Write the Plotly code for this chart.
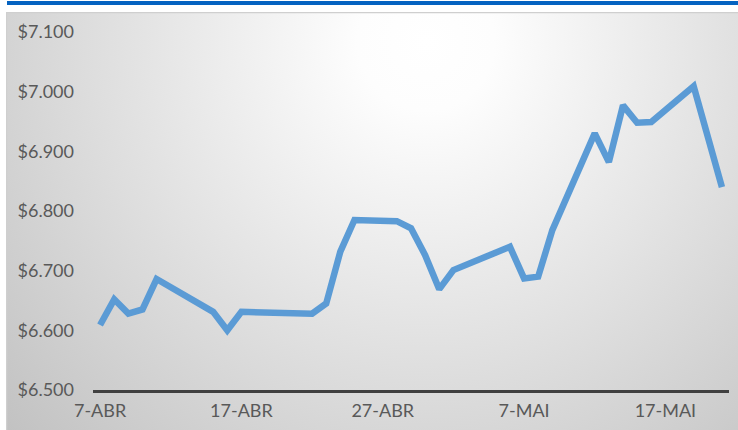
import base64
import plotly.graph_objects as go

# dados (cotação diária)
dates = ["2014-04-07", "2014-04-08", "2014-04-09", "2014-04-10", "2014-04-11",
         "2014-04-15", "2014-04-16", "2014-04-17", "2014-04-22", "2014-04-23",
         "2014-04-24", "2014-04-25", "2014-04-28", "2014-04-29", "2014-04-30",
         "2014-05-01", "2014-05-02", "2014-05-06", "2014-05-07", "2014-05-08",
         "2014-05-09", "2014-05-12", "2014-05-13", "2014-05-14", "2014-05-15",
         "2014-05-16", "2014-05-19", "2014-05-21"]
values = [6609, 6652, 6628, 6635, 6686,
          6631, 6600, 6631, 6628, 6645,
          6732, 6785, 6783, 6771, 6726,
          6669, 6701, 6740, 6687, 6690,
          6768, 6930, 6882, 6977, 6948,
          6949, 7009, 6840]

tick_dates = ["2014-04-07", "2014-04-17", "2014-04-27", "2014-05-07", "2014-05-17"]
tick_labels = ["7-ABR", "17-ABR", "27-ABR", "7-MAI", "17-MAI"]
y_ticks = [6500, 6600, 6700, 6800, 6900, 7000, 7100]
y_labels = ["$6.500", "$6.600", "$6.700", "$6.800", "$6.900", "$7.000", "$7.100"]

W, H = 738, 430
L, R, T, B = 93, 9, 32, 40
pw, ph = W - L - R, H - T - B

def px_x(x):
    return (x - L) / pw

def px_y(y):
    return (H - B - y) / ph

# fundo com gradiente radial (svg embutido)
svg = """<svg xmlns='http://www.w3.org/2000/svg' width='732' height='418'>
<defs><radialGradient id='g' gradientUnits='userSpaceOnUse' cx='420' cy='30' r='570'>
<stop offset='0' stop-color='#ffffff'/><stop offset='0.12' stop-color='#fdfdfd'/>
<stop offset='1' stop-color='#c2c2c2'/></radialGradient></defs>
<rect x='0' y='0' width='732' height='418' fill='url(#g)'/>
<rect x='0.5' y='0.5' width='740' height='430' fill='none' stroke='#cfcfcf' stroke-width='1.5'/>
</svg>"""
src = "data:image/svg+xml;base64," + base64.b64encode(svg.encode()).decode()

fig = go.Figure()

fig.add_trace(go.Scatter(
    x=dates, y=values,
    mode="lines",
    line=dict(color="#5B9BD5", width=6.5),
    hoverinfo="x+y",
    showlegend=False,
))

fig.update_layout(
    width=W, height=H,
    margin=dict(l=L, r=R, t=T, b=B),
    paper_bgcolor="white",
    plot_bgcolor="rgba(0,0,0,0)",
    font=dict(family="Lato", size=18, color="#595959"),
    images=[dict(
        source=src, xref="paper", yref="paper",
        x=px_x(6), y=px_y(12),
        sizex=px_x(738) - px_x(6), sizey=px_y(12) - px_y(430),
        xanchor="left", yanchor="top", sizing="stretch", layer="below",
    )],
    shapes=[dict(
        type="rect", xref="paper", yref="paper",
        x0=px_x(7), x1=px_x(738), y0=px_y(5), y1=px_y(1),
        fillcolor="#0563C1", line_width=0, layer="above",
    )],
    xaxis=dict(
        range=["2014-04-06 12:00", "2014-05-21 12:00"],
        tickvals=tick_dates, ticktext=tick_labels,
        showgrid=False, zeroline=False,
        showline=True, linecolor="#404040", linewidth=2.5,
        ticks="", ticklabelstandoff=3, automargin=False,
    ),
    yaxis=dict(
        range=[6500, 7100],
        tickvals=y_ticks, ticktext=y_labels,
        showgrid=False, zeroline=False, showline=False,
        ticks="", ticklabelstandoff=18, automargin=False,
    ),
)

# tira a margem padrão do body para a figura começar em (0,0)
fig.write_html("out.html", config={"displayModeBar": False},
               post_script="document.body.style.margin='0';")
